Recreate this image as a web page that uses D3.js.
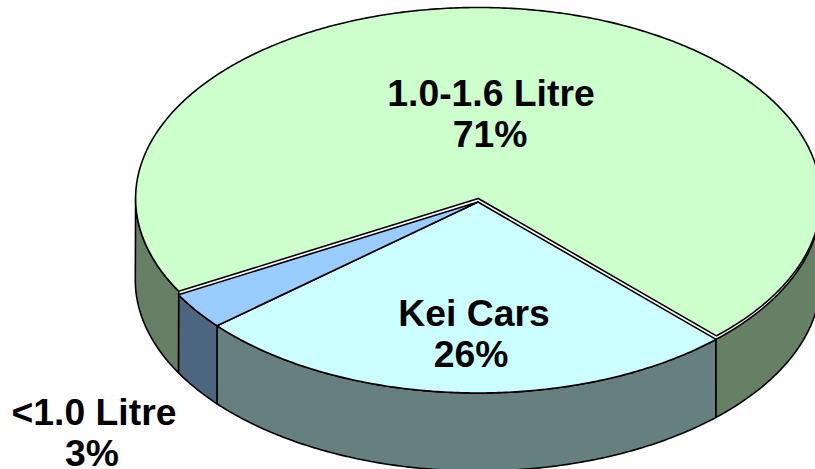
<!DOCTYPE html>
<html><head><meta charset="utf-8">
<script src="https://cdnjs.cloudflare.com/ajax/libs/d3/7.8.5/d3.min.js"></script>
<style>html,body{margin:0;padding:0;background:#fff;overflow:hidden}svg{display:block}
text{font-family:"Liberation Sans",Arial,sans-serif;font-weight:bold;font-size:37.3px;fill:#000;text-anchor:middle}</style>
</head><body><svg id="c" width="815" height="469"></svg>
<script>
const categories = ["Kei Cars", "<1.0 Litre", "1.0-1.6 Litre"];
const shares = [26, 3.15, 70.85];
const shareLabels = ["26%", "3%", "71%"];
const topColors = ["#CCFFFF", "#99CCFF", "#CCFFCC"];
const sideColors = ["#668080", "#4D6680", "#668066"];

const W = 815, H = 469;
const cx = 478, cy = 200.2, rx = 342.7, ry = 191, depth = 78;
const startAngle = 136 * Math.PI / 180;
// the large slice's top face is pulled slightly away from the others
const offsets = [[0, 1.8], [0, 1.8], [0.3, -1.7]];
const wallOffset = [0, 1.8];
const labelPos = [[474, 326], [94, 425], [491, 106]];
const labelShift = [-3, -2, -1];

const svg = d3.select("#c");
const x = d3.scaleLinear().domain([-1, 1]).range([cx - rx, cx + rx]);
const y = d3.scaleLinear().domain([-1, 1]).range([cy - ry, cy + ry]);
const arcs = d3.pie().sort(null).startAngle(startAngle).endAngle(startAngle + 2 * Math.PI)(shares);
const line = d3.line();
const samples = (a0, a1) => {
  const n = Math.max(2, Math.ceil((a1 - a0) / 0.01));
  return d3.range(n + 1).map(i => a0 + (a1 - a0) * i / n);
};
const pt = (a, o, dy = 0) => [x(Math.sin(a)) + o[0], y(-Math.cos(a)) + o[1] + dy];

// visible side walls: d3 pie angles between 90 deg and 270 deg (plus one turn)
const TAU = 2 * Math.PI;
const sides = [];
arcs.forEach((d, i) => {
  [0, TAU].forEach(shift => {
    const a0 = Math.max(d.startAngle, Math.PI / 2 + shift);
    const a1 = Math.min(d.endAngle, 3 * Math.PI / 2 + shift);
    // the left-hand piece of the large slice's wall meets its top face directly
    if (a1 > a0) sides.push({i, a0, a1, topO: (i === 2 && shift === 0) ? offsets[2] : wallOffset});
  });
});
svg.append("g").selectAll("path").data(sides).join("path")
  .attr("d", s => {
    const as = samples(s.a0, s.a1);
    return line(as.map(a => pt(a, s.topO)).concat(as.slice().reverse().map(a => pt(a, wallOffset, depth)))) + "Z";
  })
  .attr("fill", s => sideColors[s.i])
  .attr("stroke", "#000").attr("stroke-width", 1.6).attr("stroke-linejoin", "round");

// top faces
svg.append("g").selectAll("path").data(arcs).join("path")
  .attr("d", (d, i) => {
    const o = offsets[i];
    return line([[cx + o[0], cy + o[1]]].concat(samples(d.startAngle, d.endAngle).map(a => pt(a, o)))) + "Z";
  })
  .attr("fill", (d, i) => topColors[i])
  .attr("stroke", "#000").attr("stroke-width", 1.6).attr("stroke-linejoin", "round");

// labels
const labels = svg.append("g").selectAll("g").data(categories).join("g");
labels.append("text").attr("x", (d, i) => labelPos[i][0]).attr("y", (d, i) => labelPos[i][1]).text(d => d);
labels.append("text").attr("x", (d, i) => labelPos[i][0] + labelShift[i]).attr("y", (d, i) => labelPos[i][1] + 40.5).text((d, i) => shareLabels[i]);
</script></body></html>
